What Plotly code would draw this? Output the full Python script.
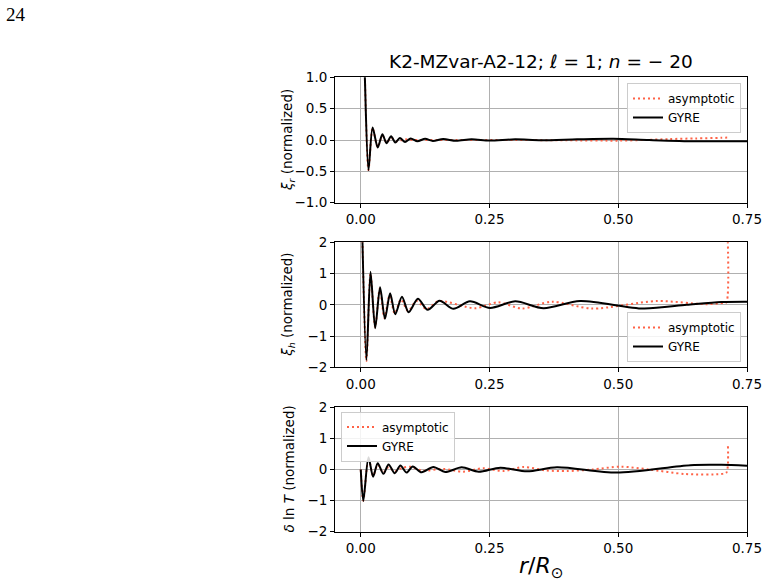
import plotly.graph_objects as go

# ---------------- data ----------------
# Panel 1: xi_r
r1_gyre = [0.003, 0.008, 0.015, 0.023, 0.033, 0.042, 0.050, 0.059, 0.067, 0.076, 0.086, 0.097,
           0.110, 0.125, 0.140, 0.160, 0.185, 0.215, 0.250, 0.300, 0.350, 0.420, 0.490, 0.560, 0.650, 0.750]
xr_gyre = [2.8, 1.0, -0.48, 0.20, -0.12, 0.09, -0.05, 0.06, -0.04, 0.03, -0.03, 0.025,
           -0.02, 0.02, -0.015, 0.015, -0.012, 0.01, -0.008, 0.01, -0.005, 0.01, 0.02, 0.0, -0.02, -0.02]
r1_asym = [0.003, 0.008, 0.015, 0.023, 0.033, 0.042, 0.050, 0.059, 0.070, 0.085, 0.100, 0.150,
           0.200, 0.300, 0.400, 0.500, 0.550, 0.600, 0.650, 0.700, 0.715]
xr_asym = [2.8, 1.0, -0.48, 0.19, -0.11, 0.07, -0.04, 0.03, -0.02, 0.01, 0.0, 0.0,
           0.0, 0.0, -0.005, -0.01, 0.0, 0.015, 0.025, 0.035, 0.04]

# Panel 2: xi_h
r2_gyre = [0.002, 0.011, 0.019, 0.028, 0.0375, 0.047, 0.057, 0.067, 0.080, 0.093, 0.111, 0.130,
           0.153, 0.180, 0.212, 0.251, 0.300, 0.355, 0.426, 0.549, 0.633, 0.700, 0.750]
xh_gyre = [3.0, -1.77, 1.06, -0.75, 0.56, -0.45, 0.37, -0.30, 0.26, -0.24, 0.19, -0.16,
           0.13, -0.13, 0.11, -0.10, 0.11, -0.11, 0.12, -0.12, 0.0, 0.09, 0.10]
r2_asym = [0.002, 0.011, 0.019, 0.028, 0.037, 0.046, 0.056, 0.066, 0.078, 0.092, 0.108, 0.128,
           0.151, 0.222, 0.267, 0.313, 0.371, 0.449, 0.575, 0.670, 0.705, 0.710, 0.712]
xh_asym = [3.0, -1.80, 1.00, -0.72, 0.52, -0.42, 0.30, -0.28, 0.17, -0.20, 0.12, -0.14,
           0.12, -0.11, 0.08, -0.12, 0.10, -0.12, 0.12, 0.02, 0.06, 0.08, 2.5]

# Panel 3: delta ln T
r3_gyre = [0.0, 0.005, 0.015, 0.024, 0.033, 0.044, 0.054, 0.066, 0.077, 0.089, 0.101, 0.118,
           0.141, 0.164, 0.196, 0.229, 0.271, 0.323, 0.381, 0.497, 0.640, 0.700, 0.750]
dT_gyre = [0.0, -1.01, 0.39, -0.23, 0.20, -0.14, 0.16, -0.12, 0.13, -0.10, 0.10, -0.09,
           0.08, -0.08, 0.07, -0.07, 0.06, -0.06, 0.07, -0.10, 0.14, 0.15, 0.12]
r3_asym = [0.0, 0.005, 0.015, 0.024, 0.033, 0.044, 0.054, 0.066, 0.080, 0.096, 0.121, 0.160,
           0.199, 0.238, 0.277, 0.316, 0.360, 0.400, 0.450, 0.505, 0.560, 0.630, 0.700, 0.710, 0.713]
dT_asym = [0.0, -1.0, 0.37, -0.20, 0.15, -0.10, 0.08, -0.06, 0.05, 0.09, -0.04, 0.02,
           -0.07, 0.04, -0.05, 0.08, -0.03, -0.05, 0.0, 0.09, 0.0, -0.145, -0.145, -0.10, 0.75]

x_ticks = [0.0, 0.25, 0.5, 0.75]
x_ticktext = ["0.00", "0.25", "0.50", "0.75"]
y1_ticks = [-1.0, -0.5, 0.0, 0.5, 1.0]
y1_ticktext = ["\u22121.0", "\u22120.5", "0.0", "0.5", "1.0"]
y23_ticks = [-2, -1, 0, 1, 2]
y23_ticktext = ["\u22122", "\u22121", "0", "1", "2"]

title_text = "K2-MZvar-A2-12; <i>\u2113</i> = 1; <i>n</i> = \u2212 20"
ylabels = ["<i>\u03be<sub>r</sub></i> (normalized)",
           "<i>\u03be<sub>h</sub></i> (normalized)",
           "<i>\u03b4</i> ln <i>T</i> (normalized)"]
xlabel = "<i>r</i>/<i>R</i><sub>\u2299</sub>"
page_number = "24"

# ---------------- figure ----------------
W, H = 768, 585
FONT = "DejaVu Sans"
RED = "#ff6347"

def px_x(p):
    return p / W

def px_y(p):
    return 1 - p / H

x0, x1 = px_x(335), px_x(747)
panels = [(77.3, 202.7), (242.3, 367.3), (407.3, 531.7)]

fig = go.Figure()

series = [
    (r1_asym, xr_asym, r1_gyre, xr_gyre, "x", "y", "legend"),
    (r2_asym, xh_asym, r2_gyre, xh_gyre, "x2", "y2", "legend2"),
    (r3_asym, dT_asym, r3_gyre, dT_gyre, "x3", "y3", "legend3"),
]
for ra, va, rg, vg, xa, ya, lg in series:
    fig.add_trace(go.Scatter(x=ra, y=va, mode="lines", name="asymptotic",
                             line=dict(color=RED, width=2, dash="2px,3px", shape="spline", smoothing=0.8),
                             xaxis=xa, yaxis=ya, legend=lg))
    fig.add_trace(go.Scatter(x=rg, y=vg, mode="lines", name="GYRE",
                             line=dict(color="black", width=2, shape="spline", smoothing=0.8),
                             xaxis=xa, yaxis=ya, legend=lg))

axis_common = dict(showline=True, linecolor="black", linewidth=1, mirror=True,
                   ticks="outside", ticklen=4, tickcolor="black", tickwidth=1,
                   showgrid=True, gridcolor="#b0b0b0", gridwidth=1, zeroline=False,
                   automargin=False,
                   tickfont=dict(family=FONT, size=13.5, color="black"))

layout = dict(width=W, height=H, autosize=False,
              margin=dict(l=0, r=0, t=0, b=0, pad=0, autoexpand=False),
              paper_bgcolor="white", plot_bgcolor="white", showlegend=True)

for i, (top, bot) in enumerate(panels):
    sfx = "" if i == 0 else str(i + 1)
    layout["xaxis" + sfx] = dict(domain=[x0, x1], anchor="y" + sfx, range=[-0.05, 0.75],
                                 tickvals=x_ticks, ticktext=x_ticktext, **axis_common)
    if i == 0:
        yr, tv, tt = [-1, 1], y1_ticks, y1_ticktext
    else:
        yr, tv, tt = [-2, 2], y23_ticks, y23_ticktext
    layout["yaxis" + sfx] = dict(domain=[px_y(bot), px_y(top)], anchor="x" + sfx, range=yr,
                                 tickvals=tv, ticktext=tt, **axis_common)

leg_common = dict(bgcolor="rgba(255,255,255,0.85)", bordercolor="#cccccc", borderwidth=1,
                  font=dict(family=FONT, size=12, color="black"), itemwidth=30,
                  tracegroupgap=0)
layout["legend"] = dict(x=px_x(741), y=px_y(83), xanchor="right", yanchor="top", **leg_common)
layout["legend2"] = dict(x=px_x(741), y=px_y(362), xanchor="right", yanchor="bottom", **leg_common)
layout["legend3"] = dict(x=px_x(341), y=px_y(411.5), xanchor="left", yanchor="top", **leg_common)

annotations = [
    dict(text=title_text, x=(x0 + x1) / 2, y=px_y(62), xref="paper", yref="paper",
         showarrow=False, font=dict(family=FONT, size=18.5, color="black"),
         xanchor="center", yanchor="middle"),
    dict(text=xlabel, x=(x0 + x1) / 2, y=px_y(567), xref="paper", yref="paper",
         showarrow=False, font=dict(family=FONT, size=22, color="black"),
         xanchor="center", yanchor="middle"),
    dict(text=page_number, x=px_x(4), y=px_y(14), xref="paper", yref="paper",
         showarrow=False, font=dict(family="Liberation Serif, DejaVu Serif, serif", size=19, color="black"),
         xanchor="left", yanchor="middle"),
]
for lab, (top, bot) in zip(ylabels, panels):
    annotations.append(dict(text=lab, x=px_x(288), y=px_y((top + bot) / 2),
                            xref="paper", yref="paper", showarrow=False, textangle=-90,
                            font=dict(family=FONT, size=13.5, color="black"),
                            xanchor="center", yanchor="middle"))
layout["annotations"] = annotations

fig.update_layout(**layout)
fig.write_html("out.html", config={"responsive": False})
